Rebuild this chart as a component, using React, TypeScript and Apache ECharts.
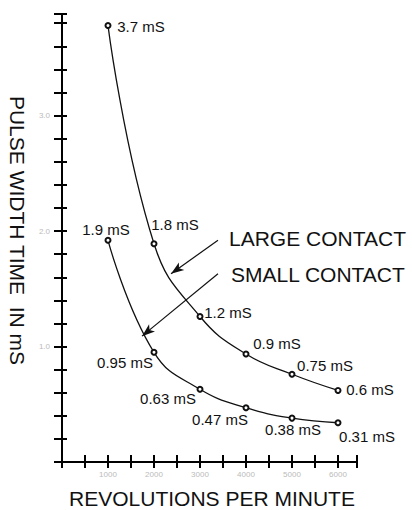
import React, { useEffect, useRef } from "react";
import * as echarts from "echarts";

const rpm = [1000, 2000, 3000, 4000, 5000, 6000];
const largeValues = [3.78, 1.89, 1.26, 0.935, 0.76, 0.62];
const smallValues = [1.92, 0.95, 0.63, 0.47, 0.38, 0.34];
const largeLabels = ["3.7 mS", "1.8 mS", "1.2 mS", "0.9 mS", "0.75 mS", "0.6 mS"];
const smallLabels = ["1.9 mS", "0.95 mS", "0.63 mS", "0.47 mS", "0.38 mS", "0.31 mS"];

// label offsets (layout only)
const largeOffsets = [[33, 1], [21, -19], [28, -4], [31, -11], [33, -9], [32, -1]];
const smallOffsets = [[-2, -11], [-29, 10], [-32, 9], [-26, 12], [1, 11], [29, 14]];

const FONT = "'Liberation Sans', Arial, sans-serif";

function buildData(values: number[], labels: string[], offsets: number[][]) {
  return rpm.map((x, i) => ({
    value: [x, values[i]],
    label: {
      show: true,
      position: "inside",
      offset: offsets[i],
      formatter: labels[i],
      fontSize: 15,
      fontFamily: FONT,
      color: "#111",
    },
  }));
}

export default function App() {
  const ref = useRef<HTMLDivElement>(null);
  useEffect(() => {
    if (!ref.current) return;
    const chart = echarts.init(ref.current, undefined, { renderer: "svg" });
    const axisCommon = { type: "value", min: 0, splitLine: { show: false } };
    const seriesCommon = {
      type: "line",
      smooth: 0.45,
      symbol: "emptyCircle",
      symbolSize: 5,
      lineStyle: { color: "#111", width: 1.3 },
      itemStyle: { color: "#111", borderColor: "#111", borderWidth: 1 },
      emphasis: { disabled: true },
    };
    const tickStyle = { color: "#000", width: 2 };
    chart.setOption({
      animation: false,
      backgroundColor: "#fff",
      grid: { left: 62, right: 55.6, top: 14, bottom: 48, containLabel: false },
      xAxis: [
        {
          ...axisCommon,
          max: 6400,
          interval: 500,
          axisLine: { show: true, lineStyle: { color: "#000", width: 2 } },
          axisTick: { show: true, length: 6, lineStyle: tickStyle },
          axisLabel: {
            margin: 8,
            fontSize: 8,
            color: "#bbb",
            fontFamily: FONT,
            formatter: (v: number) => (v > 0 && v % 1000 === 0 ? String(v) : ""),
          },
        },
        {
          ...axisCommon,
          max: 6400,
          interval: 500,
          position: "bottom",
          axisLine: { show: false },
          axisTick: { show: true, inside: true, length: 7, lineStyle: tickStyle },
          axisLabel: { show: false },
        },
      ],
      yAxis: [
        {
          ...axisCommon,
          max: 3.88,
          interval: 0.2,
          axisLine: { show: true, lineStyle: { color: "#000", width: 2 } },
          axisTick: { show: true, length: 8, lineStyle: tickStyle },
          axisLabel: {
            margin: 12,
            fontSize: 8,
            color: "#bbb",
            fontFamily: FONT,
            formatter: (v: number) =>
              v > 0 && Math.abs(v - Math.round(v)) < 1e-6 ? v.toFixed(1) : "",
          },
        },
        {
          ...axisCommon,
          max: 3.88,
          interval: 0.2,
          position: "left",
          axisLine: { show: false },
          axisTick: { show: true, inside: true, length: 5, lineStyle: tickStyle },
          axisLabel: { show: false },
        },
      ],
      series: [
        {
          ...seriesCommon,
          name: "LARGE CONTACT",
          data: buildData(largeValues, largeLabels, largeOffsets),
          markLine: {
            silent: true,
            symbol: ["none", "arrow"],
            symbolSize: [7, 13],
            label: { show: false },
            lineStyle: { color: "#111", width: 1.2, type: "solid" },
            data: [[{ coord: [3391, 1.92] }, { coord: [2370, 1.63] }]],
          },
        },
        {
          ...seriesCommon,
          name: "SMALL CONTACT",
          data: buildData(smallValues, smallLabels, smallOffsets),
          markLine: {
            silent: true,
            symbol: ["none", "arrow"],
            symbolSize: [7, 13],
            label: { show: false },
            lineStyle: { color: "#111", width: 1.2, type: "solid" },
            data: [[{ coord: [3391, 1.63] }, { coord: [1739, 1.09] }]],
          },
        },
      ],
      graphic: [
        {
          type: "text",
          x: 229,
          y: 238.5,
          style: { text: "LARGE CONTACT", fontSize: 21, fontFamily: FONT, fill: "#111", align: "left", verticalAlign: "middle" },
        },
        {
          type: "text",
          x: 231,
          y: 274.5,
          style: { text: "SMALL CONTACT", fontSize: 21, fontFamily: FONT, fill: "#111", align: "left", verticalAlign: "middle" },
        },
        {
          type: "text",
          x: 212,
          y: 498.5,
          style: { text: "REVOLUTIONS PER MINUTE", fontSize: 21, fontFamily: FONT, fill: "#111", align: "center", verticalAlign: "middle" },
        },
        {
          type: "text",
          x: 17.5,
          y: 230.5,
          rotation: -Math.PI / 2,
          style: { text: "PULSE WIDTH TIME  IN mS", fontSize: 21, fontFamily: FONT, fill: "#111", align: "center", verticalAlign: "middle" },
        },
      ],
    });
    return () => chart.dispose();
  }, []);
  return (
    <div
      ref={ref}
      style={{ position: "absolute", left: 0, top: 0, width: 412, height: 510, background: "#fff" }}
    />
  );
}
